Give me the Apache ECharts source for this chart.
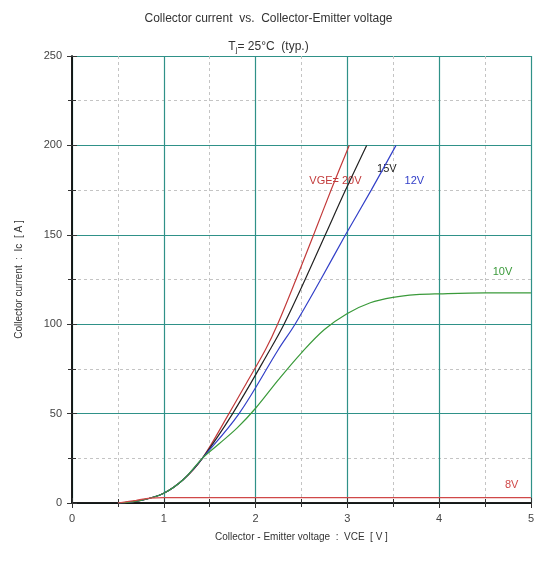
<!DOCTYPE html>
<html><head><meta charset="utf-8">
<script src="https://cdn.jsdelivr.net/npm/echarts@6/dist/echarts.min.js"></script>
<style>html,body{margin:0;padding:0;background:#fff}#c{width:537px;height:561px}</style>
</head><body><div id="c"></div>
<script>
// Data (VCE [V], IC [A])
const vge20 = [[0.5,0],[0.75,1.5],[1.0,5.5],[1.21,13],[1.42,25],[1.71,50],[1.9,67],[2.11,86],[2.24,100],[2.44,125],[2.64,151],[2.83,176],[3.02,200]];
const vge15 = [[0.5,0],[0.75,1.5],[1.0,5.5],[1.21,13],[1.42,25],[1.75,50],[2.16,86],[2.31,100],[2.54,125],[2.76,150],[2.98,175],[3.21,200]];
const vge12 = [[0.5,0],[0.75,1.5],[1.0,5.5],[1.21,13],[1.42,25],[1.82,50],[2.25,86],[2.43,100],[2.71,125],[2.98,150],[3.26,175],[3.53,200]];
const vge10 = [[0.5,0],[0.75,1.5],[1.0,5.5],[1.21,13],[1.42,25],[1.6,33],[1.8,42],[2.0,53],[2.25,69],[2.5,84],[2.75,97],[3.0,106],[3.25,112],[3.5,115],[3.75,116.5],[4.0,117],[4.5,117.5],[5.0,117.5]];
const vge8  = [[0.5,0],[0.7,1.5],[0.85,2.7],[1.0,3],[5.0,3]];
const seriesNames = ['VGE= 20V','15V','12V','10V','8V'];
const seriesColors = ['#c23a3a','#222222','#3340c8','#3a9a3a','#d04848'];
const labelPos = [[2.87,180],[3.43,187],[3.73,180],[4.69,129],[4.79,10]];
const xTicks = [0,1,2,3,4,5];
const yTicks = [0,50,100,150,200,250];

const FONT = 'Liberation Sans, Arial, sans-serif';
const chart = echarts.init(document.getElementById('c'));
const allData = [vge20,vge15,vge12,vge10,vge8];
const series = allData.map((d,i)=>({
  name: seriesNames[i], type:'line', data:d, smooth:0.35, showSymbol:false,
  lineStyle:{color:seriesColors[i], width:1.2}, itemStyle:{color:seriesColors[i]},
  xAxisIndex:0, yAxisIndex:0, z:5,
  markPoint:{symbol:'circle', symbolSize:0, silent:true,
    data:[{coord:labelPos[i], label:{show:true, formatter:seriesNames[i], color:seriesColors[i], fontSize:11, fontFamily:FONT, position:'inside'}}]}
}));
const axisCommon = {
  axisLine:{show:true, lineStyle:{color:'#111', width:1.5}},
  axisTick:{show:true, inside:true, length:5, lineStyle:{color:'#333'}},
  minorTick:{show:true, splitNumber:2, length:4, lineStyle:{color:'#333'}},
};
chart.setOption({
  animation:false,
  title:[{text:'Collector current  vs.  Collector-Emitter voltage', left:'center', top:8,
    textStyle:{fontSize:12, fontWeight:'normal', color:'#333', fontFamily:FONT}},
   {text:'{a|T}{b|j}{a|= 25°C  (typ.)}', left:'center', top:35,
    textStyle:{fontWeight:'normal', rich:{a:{fontSize:12,color:'#333',fontWeight:'normal',fontFamily:FONT},b:{fontSize:8,color:'#333',fontWeight:'normal',verticalAlign:'bottom',padding:[6,0,0,0],fontFamily:FONT}}}}],
  grid:{left:72, right:4, top:56, bottom:58, containLabel:false},
  xAxis:[
    Object.assign({type:'value', min:0, max:5, interval:1, position:'bottom',
      name:'Collector - Emitter voltage  :  VCE  [ V ]', nameLocation:'middle', nameGap:29,
      nameTextStyle:{fontSize:10, color:'#333', fontFamily:FONT},
      axisLabel:{color:'#444', fontSize:11, margin:10, fontFamily:FONT},
      splitLine:{show:true, lineStyle:{color:'#2f9188', width:1.2}},
      minorSplitLine:{show:true, lineStyle:{color:'#c4c4c4', type:[3,3], width:1}}}, axisCommon),
    Object.assign({type:'value', min:0, max:5, interval:1, position:'top',
      axisLabel:{show:false}, splitLine:{show:false}}, axisCommon)
  ],
  yAxis:[
    Object.assign({type:'value', min:0, max:250, interval:50, position:'left',
      name:'Collector current  :  Ic  [ A ]', nameLocation:'middle', nameGap:48,
      nameTextStyle:{fontSize:10, color:'#333', fontFamily:FONT},
      axisLabel:{color:'#444', fontSize:11, margin:10, fontFamily:FONT},
      splitLine:{show:true, lineStyle:{color:'#2f9188', width:1.2}},
      minorSplitLine:{show:true, lineStyle:{color:'#c4c4c4', type:[3,3], width:1}}}, axisCommon),
    Object.assign({type:'value', min:0, max:250, interval:50, position:'right',
      axisLabel:{show:false}, splitLine:{show:false}}, axisCommon)
  ],
  series: series
});
</script></body></html>
